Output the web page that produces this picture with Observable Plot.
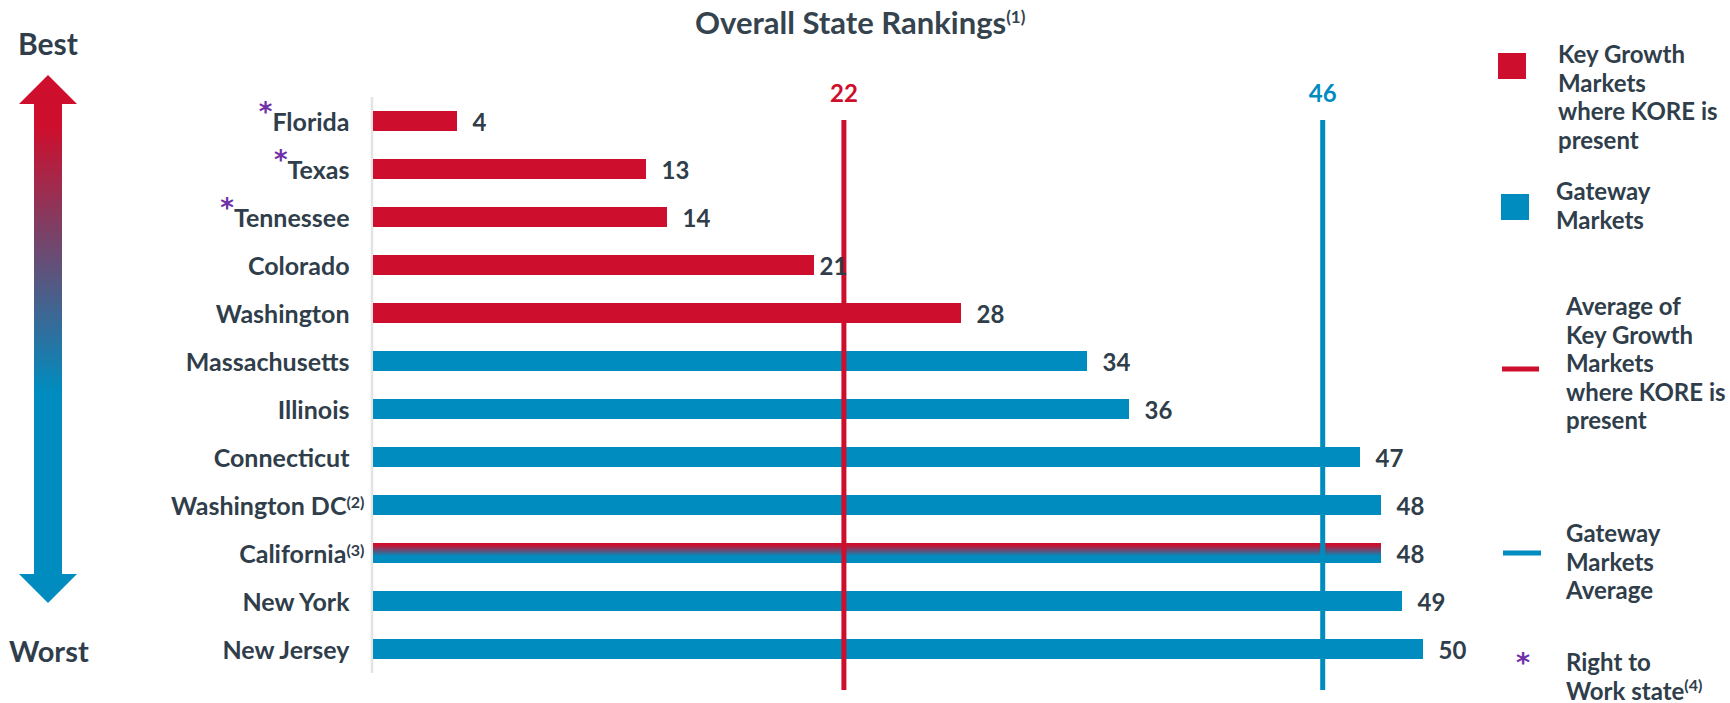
<!DOCTYPE html>
<html><head><meta charset="utf-8">
<script src="https://cdn.jsdelivr.net/npm/d3@7"></script>
<script src="https://cdn.jsdelivr.net/npm/@observablehq/plot@0.6"></script>
<style>
html,body{margin:0;padding:0;background:#fff;overflow:hidden}
#wrap{position:relative;width:1730px;height:703px;font-family:Lato,sans-serif}
#wrap > svg{position:absolute;left:0;top:0}
</style></head><body><div id="wrap"></div>
<script>
// ---- data ----
const states = ["Florida","Texas","Tennessee","Colorado","Washington","Massachusetts","Illinois","Connecticut","Washington DC","California","New York","New Jersey"];
const ranks = [4,13,14,21,28,34,36,47,48,48,49,50];
const groups = ["Key Growth","Key Growth","Key Growth","Key Growth","Key Growth","Gateway","Gateway","Gateway","Gateway","Both","Gateway","Gateway"];
const footnotes = ["","","","","","","","","(2)","(3)","",""];
const rightToWork = [true,true,true,false,false,false,false,false,false,false,false,false];
const avgLabels = ["22","46"];
const avgPositions = [22.4, 45.2];
const avgGroups = ["Key Growth","Gateway"];
const titleText = "Overall State Rankings";
const titleNote = "(1)";
const legendLines = [
  ["Key Growth","Markets","where KORE is","present"],
  ["Gateway","Markets"],
  ["Average of","Key Growth","Markets","where KORE is","present"],
  ["Gateway","Markets","Average"],
  ["Right to","Work state"]
];

// ---- styles ----
const RED = "#cd0f2d", BLUE = "#008cbf", PURPLE = "#7030a8", INK = "#2f3e4a";
const colorOf = {"Key Growth": RED, "Gateway": BLUE, "Both": "url(#calGrad)"};

const data = states.map((s,i)=>({state:s, rank:ranks[i], group:groups[i], note:footnotes[i], rtw:rightToWork[i]}));
const avgs = avgPositions.map((p,i)=>({pos:p, label:avgLabels[i], group:avgGroups[i]}));
const byName = Object.fromEntries(data.map(d=>[d.state,d]));

const wrap = document.getElementById("wrap");

// overlay svg (gradients, title, arrow, legend)
const ov = d3.create("svg").attr("width",1730).attr("height",703)
  .style("font-family","Lato, sans-serif").style("font-weight",700);
const defs = ov.append("defs");
const g1 = defs.append("linearGradient").attr("id","calGrad").attr("x1",0).attr("y1",0).attr("x2",0).attr("y2",1);
g1.append("stop").attr("offset","0.1").attr("stop-color",RED);
g1.append("stop").attr("offset","0.65").attr("stop-color",BLUE);
const g2 = defs.append("linearGradient").attr("id","arrowGrad").attr("x1",0).attr("y1",0).attr("x2",0).attr("y2",1);
g2.append("stop").attr("offset","0.1").attr("stop-color",RED);
g2.append("stop").attr("offset","0.6").attr("stop-color",BLUE);

const chart = Plot.plot({
  width: 1730, height: 703,
  marginLeft: 373, marginRight: 307, marginTop: 97, marginBottom: 30,
  x: {domain: [0, 50], axis: null},
  y: {domain: states, axis: null, padding: 0},
  style: {fontFamily: "Lato, sans-serif", background: "transparent", overflow: "visible", color: INK},
  marks: [
    Plot.ruleX([0], {stroke: "#e4e4e4", strokeWidth: 2.5, dx: -1.5}),
    Plot.barX(data, {x1: 0, x2: "rank", y: "state", fill: d => colorOf[d.group], insetTop: 14, insetBottom: 14}),
    Plot.ruleX(avgs, {x: "pos", stroke: d => colorOf[d.group], strokeWidth: 5, insetTop: 23, insetBottom: -17}),
    Plot.text(avgs, {x: "pos", text: "label", frameAnchor: "top", lineAnchor: "bottom", dy: 4,
      fill: d => colorOf[d.group], fontSize: 24, fontWeight: 700}),
    Plot.text(data.filter(d => d.state !== "Colorado"), {x: "rank", y: "state", text: d => String(d.rank),
      textAnchor: "start", dx: 15, dy: 2, fill: INK, fontSize: 24, fontWeight: 700}),
    Plot.text(data.filter(d => d.state === "Colorado"), {x: "rank", y: "state", text: d => String(d.rank),
      textAnchor: "start", dx: 5, dy: 2, fill: INK, fontSize: 24, fontWeight: 700}),
    Plot.text(data.filter(d => !d.note), {x: 0, y: "state", text: "state", textAnchor: "end", dx: -24, dy: 1,
      fill: INK, fontSize: 25, fontWeight: 700}),
    Plot.text(data.filter(d => d.note), {x: 0, y: "state", text: "state", textAnchor: "end", dx: -9, dy: 1,
      fill: INK, fontSize: 25, fontWeight: 700})
  ]
});

// rich labels: asterisk for right-to-work, superscript footnotes
d3.select(chart).selectAll("text").each(function(){
  const name = this.textContent; const d = byName[name];
  if (!d) return;
  this.textContent = "";
  const t = d3.select(this);
  if (d.rtw) {
    t.append("tspan").attr("fill", PURPLE).attr("font-family", "DejaVu Sans").attr("font-weight", 700)
      .attr("font-size", 26).attr("dy", -10).text("*");
    t.append("tspan").attr("dy", 10).text(name);
  } else t.append("tspan").text(name);
  if (d.note) t.append("tspan").attr("font-size", 16).attr("dy", -7).text(d.note);
});

wrap.appendChild(chart);

// title
const tt = ov.append("text").attr("x", 695).attr("y", 34).attr("fill", "#34434e").attr("font-size", 31);
tt.append("tspan").text(titleText);
tt.append("tspan").attr("font-size", 17).attr("dy", -11).text(titleNote);

// arrow + Best / Worst
ov.append("polygon").attr("fill","url(#arrowGrad)")
  .attr("points","48,75 77,104 62,104 62,574 77,574 48,603 19,574 34,574 34,104 19,104");
ov.append("text").attr("x",18).attr("y",55).attr("font-size",30).attr("fill",INK).text("Best");
ov.append("text").attr("x",9).attr("y",662).attr("font-size",29).attr("fill",INK).text("Worst");

// legend
ov.append("rect").attr("x",1498).attr("y",53).attr("width",28).attr("height",26).attr("fill",RED);
ov.append("rect").attr("x",1501).attr("y",194).attr("width",28).attr("height",26).attr("fill",BLUE);
ov.append("line").attr("x1",1502).attr("x2",1539).attr("y1",369).attr("y2",369).attr("stroke",RED).attr("stroke-width",5);
ov.append("line").attr("x1",1503).attr("x2",1541).attr("y1",553).attr("y2",553).attr("stroke",BLUE).attr("stroke-width",5);
ov.append("text").attr("x",1523).attr("y",672).attr("text-anchor","middle").attr("font-family","DejaVu Sans")
  .attr("font-weight",700).attr("font-size",27).attr("fill",PURPLE).text("*");

const legendPos = [[1558,63],[1556,200],[1566,315],[1566,542],[1566,671]];
legendLines.forEach((lines, k) => {
  const [x, y0] = legendPos[k];
  lines.forEach((ln, j) => {
    const t = ov.append("text").attr("x", x).attr("y", y0 + j*28.5).attr("font-size", 24).attr("fill", INK);
    t.append("tspan").text(ln);
    if (k === 4 && j === 1) t.append("tspan").attr("font-size", 16).attr("dy", -9).text("(4)");
  });
});

wrap.appendChild(ov.node());
</script></body></html>
